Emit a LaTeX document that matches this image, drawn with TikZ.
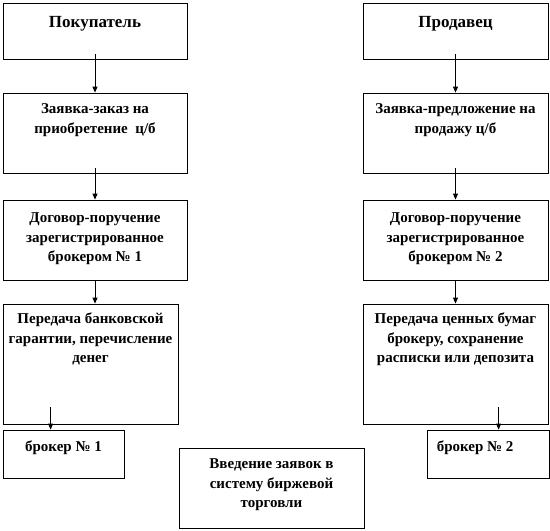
\documentclass[tikz,border=0pt]{standalone}
\usepackage{fontspec}
\setmainfont{Liberation Serif}
\usetikzlibrary{arrows.meta,calc}
\tikzset{
  box/.style={draw, line width=0.8pt, inner sep=0pt},
  txt/.style={font=\bfseries\fontsize{15}{19.5}\selectfont, align=center, inner sep=0pt, anchor=north},
  title/.style={txt, font=\bfseries\fontsize{17}{20}\selectfont},
  arr/.style={line width=0.8pt, -{Triangle[length=6pt,width=5pt]}}
}
\begin{document}
\begin{tikzpicture}[x=1pt,y=-1pt]
\useasboundingbox (0,0) rectangle (550,531);
% left column
\node[box, minimum width=184pt, minimum height=56pt] (b1l) at (95,31) {};
\node[box, minimum width=184pt, minimum height=80pt] (b2l) at (95,133) {};
\node[box, minimum width=184pt, minimum height=80pt] (b3l) at (95,240) {};
\node[box, minimum width=175pt, minimum height=120pt] (b4l) at (90.5,364) {};
\node[box, minimum width=121pt, minimum height=48pt] (b5l) at (63.5,454) {};
% right column
\node[box, minimum width=185pt, minimum height=56pt] (b1r) at (455.5,31) {};
\node[box, minimum width=185pt, minimum height=80pt] (b2r) at (455.5,133) {};
\node[box, minimum width=185pt, minimum height=80pt] (b3r) at (455.5,240) {};
\node[box, minimum width=185pt, minimum height=120pt] (b4r) at (455.5,364) {};
\node[box, minimum width=122pt, minimum height=48pt] (b5r) at (488,454) {};
% centre
\node[box, minimum width=185pt, minimum height=80pt] (bc) at (271.5,488) {};
% texts
\node[title] (t1l) at ($(b1l.north)+(0,14)$) {Покупатель};
\node[txt] (t2l) at ($(b2l.north)+(0,11)$) {Заявка-заказ на\\приобретение\ \ ц/б};
\node[txt] (t3l) at ($(b3l.north)+(0,13)$) {Договор-поручение\\зарегистрированное\\брокером № 1};
\node[txt] (t4l) at ($(b4l.north)+(0,9)$) {Передача банковской\\гарантии, перечисление\\денег};
\node[txt] (t5l) at ($(b5l.north)+(0,11)$) {брокер № 1};
\node[title] (t1r) at ($(b1r.north)+(0,14)$) {Продавец};
\node[txt] (t2r) at ($(b2r.north)+(0,11)$) {Заявка-предложение на\\продажу ц/б};
\node[txt] (t3r) at ($(b3r.north)+(0,13)$) {Договор-поручение\\зарегистрированное\\брокером № 2};
\node[txt] (t4r) at ($(b4r.north)+(0,9)$) {Передача ценных бумаг\\брокеру, сохранение\\расписки или депозита};
\node[txt, anchor=north west] (t5r) at ($(b5r.north west)+(10,11)$) {брокер № 2};
\node[txt] (tc) at ($(bc.north)+(0,11)$) {Введение заявок в\\систему биржевой\\торговли};
% arrows
\draw[arr] ([yshift=5pt]b1l.south -| t1l) -- (b2l.north -| t1l);
\draw[arr] ([yshift=5pt]b2l.south -| t1l) -- (b3l.north -| t1l);
\draw[arr] (b3l.south -| t1l) -- (b4l.north -| t1l);
\coordinate (a4l) at ($(b4l.south west)+(48,-17)$);
\draw[arr] (a4l) -- (a4l |- b5l.north);
\draw[arr] ([yshift=5pt]b1r.south -| t1r) -- (b2r.north -| t1r);
\draw[arr] ([yshift=5pt]b2r.south -| t1r) -- (b3r.north -| t1r);
\draw[arr] (b3r.south -| t1r) -- (b4r.north -| t1r);
\coordinate (a4r) at ($(b4r.south west)+(136,-17)$);
\draw[arr] (a4r) -- (a4r |- b5r.north);
\end{tikzpicture}
\end{document}
